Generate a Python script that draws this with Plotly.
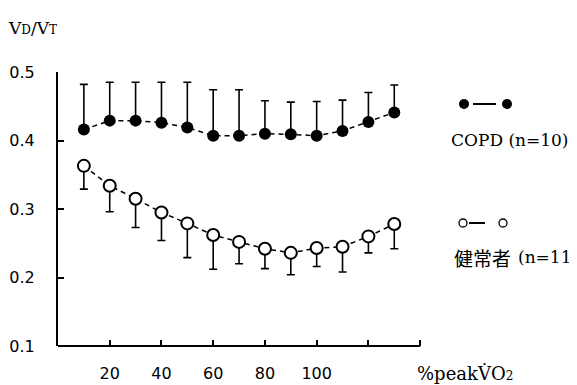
import plotly.graph_objects as go

# ---- data ----
pct_peak_vo2 = [10, 20, 30, 40, 50, 60, 70, 80, 90, 100, 110, 120, 130]
copd_mean = [0.416, 0.429, 0.429, 0.426, 0.419, 0.407, 0.407, 0.410, 0.409, 0.407, 0.414, 0.427, 0.441]
copd_sd = [0.066, 0.056, 0.056, 0.059, 0.066, 0.067, 0.067, 0.048, 0.047, 0.050, 0.045, 0.043, 0.040]
healthy_mean = [0.363, 0.334, 0.315, 0.295, 0.279, 0.262, 0.252, 0.242, 0.236, 0.243, 0.245, 0.260, 0.278]
healthy_sd = [0.034, 0.038, 0.042, 0.041, 0.050, 0.050, 0.032, 0.029, 0.032, 0.027, 0.037, 0.024, 0.036]
x_tickvals = [20, 40, 60, 80, 100, 120, 140]
x_ticktext = ["20", "40", "60", "80", "100", "", ""]
y_tickvals = [0.1, 0.2, 0.3, 0.4, 0.5]
y_ticktext = ["0.1", "0.2", "0.3", "0.4", "0.5"]
copd_label = "COPD (n=10)"
healthy_label_jp = "健常者"
healthy_label_n = "(n=11)"

# page has an 8px body margin, so the figure is drawn at (8, 8)
OFF = 8
W, H = 577 - OFF, 385 - OFF
L, T = 58 - OFF, 72 - OFF
R = W - (446 - OFF)
B = H - (346 - OFF)
PW, PH = W - L - R, H - T - B


def px(xpage):
    return (xpage - OFF - L) / PW


def py(ypage):
    return (H - B - (ypage - OFF)) / PH


zeros = [0] * len(pct_peak_vo2)
dash_line = dict(color="black", width=1.5, dash="5px,4px")

fig = go.Figure()
fig.add_trace(go.Scatter(
    x=pct_peak_vo2, y=copd_mean, mode="lines+markers",
    line=dash_line,
    marker=dict(size=12, color="black", line=dict(width=0)),
    error_y=dict(type="data", symmetric=False, array=copd_sd, arrayminus=zeros,
                 color="black", thickness=1.6, width=4),
    showlegend=False, cliponaxis=False,
))
fig.add_trace(go.Scatter(
    x=pct_peak_vo2, y=healthy_mean, mode="lines+markers",
    line=dash_line,
    marker=dict(size=12, color="white", line=dict(width=2, color="black")),
    error_y=dict(type="data", symmetric=False, array=zeros, arrayminus=healthy_sd,
                 color="black", thickness=1.6, width=4),
    showlegend=False, cliponaxis=False,
))

shapes = [
    # x axis line from 0 to 140
    dict(type="line", xref="x", yref="paper", x0=0, x1=140, y0=0, y1=0,
         line=dict(color="black", width=2)),
    # legend glyph COPD
    dict(type="line", xref="paper", yref="paper", x0=px(473), x1=px(496), y0=py(104), y1=py(104),
         line=dict(color="black", width=2)),
    dict(type="circle", xref="paper", yref="paper", x0=px(459), x1=px(469), y0=py(109), y1=py(99),
         fillcolor="black", line=dict(color="black", width=0)),
    dict(type="circle", xref="paper", yref="paper", x0=px(502), x1=px(512), y0=py(109), y1=py(99),
         fillcolor="black", line=dict(color="black", width=0)),
    # legend glyph healthy
    dict(type="line", xref="paper", yref="paper", x0=px(469), x1=px(485), y0=py(223), y1=py(223),
         line=dict(color="black", width=2)),
    dict(type="circle", xref="paper", yref="paper", x0=px(459), x1=px(467), y0=py(227), y1=py(219),
         fillcolor="white", line=dict(color="black", width=1.3)),
    dict(type="circle", xref="paper", yref="paper", x0=px(499), x1=px(507), y0=py(227), y1=py(219),
         fillcolor="white", line=dict(color="black", width=1.3)),
]

serif = "DejaVu Serif"
annotations = [
    dict(text="V<span style='font-size:12px'>D</span>/V<span style='font-size:12px'>T</span>",
         xref="paper", yref="paper", x=px(6), y=py(28), xanchor="left", yanchor="middle",
         showarrow=False, font=dict(family=serif, size=17, color="black")),
    dict(text="%peakV\u0307O<span style='font-size:12px'>2</span>",
         xref="paper", yref="paper", x=px(465), y=py(373), xanchor="center", yanchor="middle",
         showarrow=False, font=dict(family=serif, size=18, color="black")),
    dict(text=copd_label, xref="paper", yref="paper", x=px(449), y=py(140),
         xanchor="left", yanchor="middle", showarrow=False,
         font=dict(family=serif, size=17, color="black")),
    dict(text=healthy_label_jp, xref="paper", yref="paper", x=px(452), y=py(257),
         xanchor="left", yanchor="middle", showarrow=False,
         font=dict(family="Noto Sans CJK JP", size=19, color="black")),
    dict(text=healthy_label_n, xref="paper", yref="paper", x=px(516), y=py(257),
         xanchor="left", yanchor="middle", showarrow=False,
         font=dict(family=serif, size=17, color="black")),
]

fig.update_layout(
    width=W, height=H,
    margin=dict(l=L, r=R, t=T, b=B, pad=0),
    paper_bgcolor="white", plot_bgcolor="white",
    xaxis=dict(range=[0, 150], showgrid=False, zeroline=False, showline=False,
               automargin=False,
               tickmode="array", tickvals=x_tickvals, ticktext=x_ticktext,
               ticks="inside", ticklen=6, tickwidth=1.5, tickcolor="black",
               ticklabelstandoff=16,
               tickfont=dict(family="DejaVu Sans", size=16, color="black")),
    yaxis=dict(range=[0.1, 0.5], showgrid=False, zeroline=False, showline=True,
               automargin=False,
               linecolor="black", linewidth=2,
               tickmode="array", tickvals=y_tickvals, ticktext=y_ticktext,
               ticks="inside", ticklen=6, tickwidth=1.5, tickcolor="black",
               ticklabelstandoff=18,
               tickfont=dict(family="DejaVu Sans", size=16, color="black")),
    shapes=shapes,
    annotations=annotations,
)

fig.write_html("out.html")
